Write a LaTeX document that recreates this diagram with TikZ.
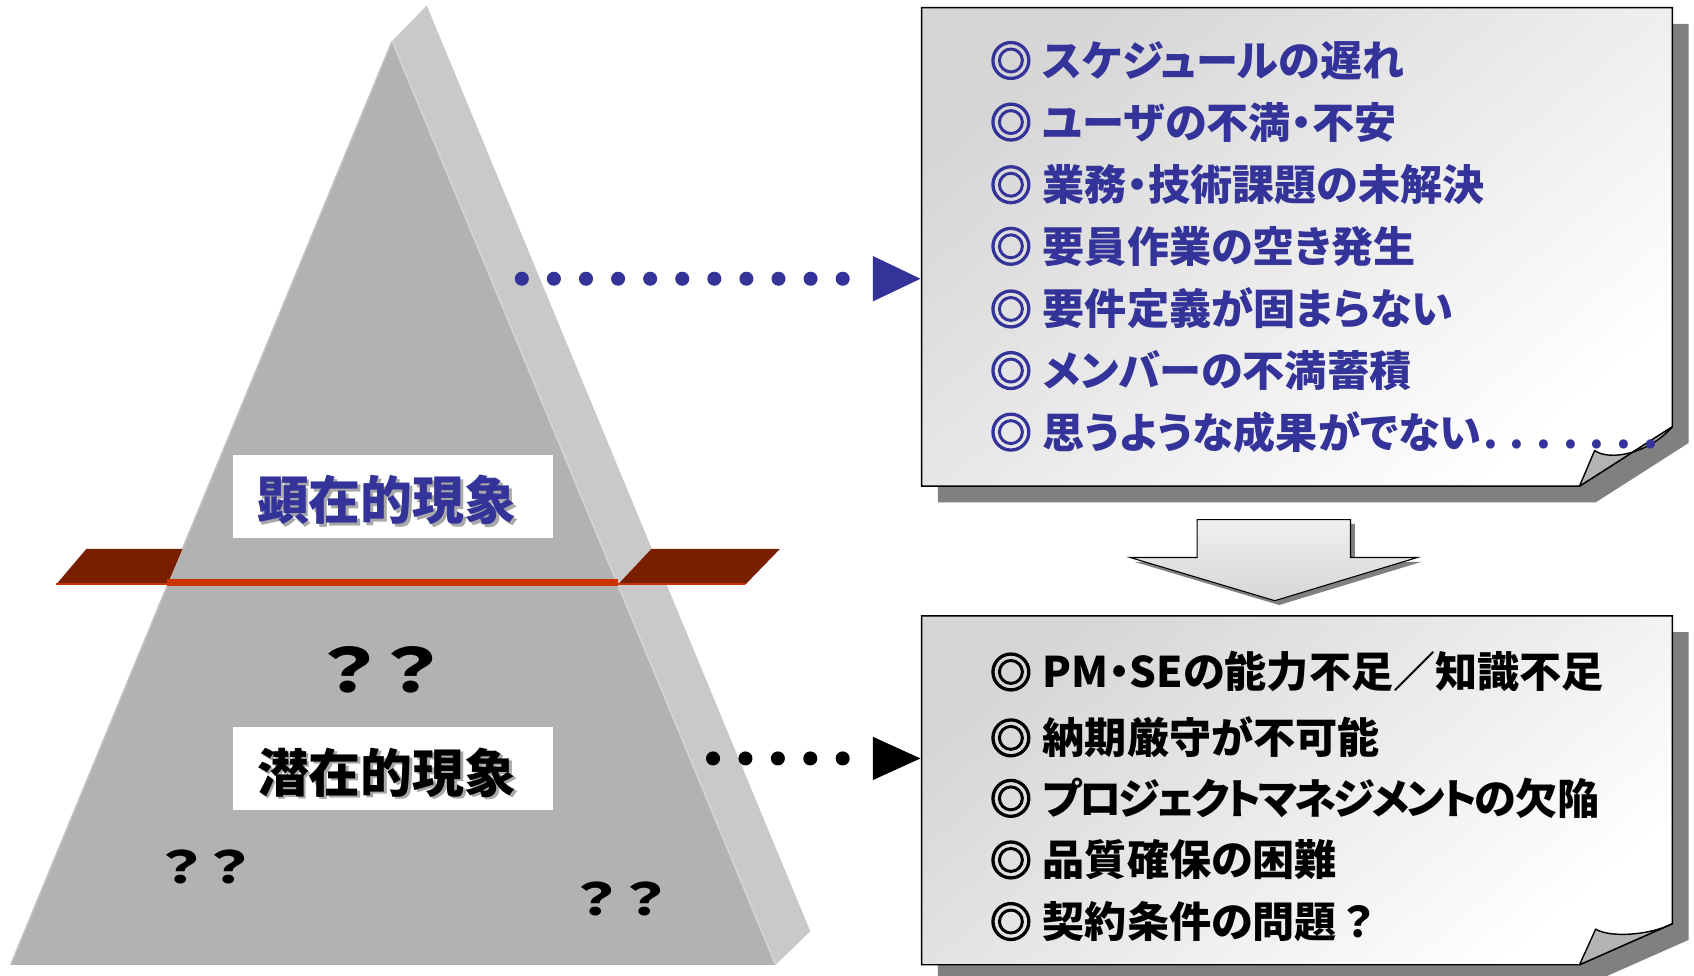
\documentclass[tikz,border=0pt]{standalone}
\usepackage{fontspec}
\newfontfamily\jp{Noto Sans CJK JP}[RawFeature=+palt]
\newfontfamily\jpfw{Noto Sans CJK JP}
\newfontfamily\jpq{Noto Sans CJK JP}[FakeStretch=1.3]
\newfontfamily\jpbul{Noto Sans CJK JP}[FakeBold=3]
\newcommand{\bul}{{\jpbul ◎}\hspace{10pt}}
\newcommand{\fwq}{{\jpfw ？}}
\definecolor{navy}{HTML}{333399}
\definecolor{pyrfront}{HTML}{B2B2B2}
\definecolor{pyrside}{HTML}{C9C9C9}
\definecolor{pyredgeL}{HTML}{C2C2C2}
\definecolor{pyredgeR}{HTML}{D4D4D4}
\definecolor{planecol}{HTML}{7A1E00}
\definecolor{planeedge}{HTML}{C23400}
\definecolor{redline}{HTML}{CC3300}
\definecolor{shadowgray}{HTML}{808080}
\definecolor{boxtl}{HTML}{D6D6D6}
\definecolor{foldgray}{HTML}{B3B3B3}
\definecolor{txtshadow}{HTML}{A8A8A8}
\begin{document}
\begin{tikzpicture}[x=1pt,y=-1pt,
  topitem/.style={anchor=west, inner sep=0pt, text=navy,
    font=\jp\bfseries\fontsize{39}{39}\selectfont, text height=34.3pt, text depth=4.7pt},
  botitem/.style={topitem, text=black},
  lblbox/.style={fill=white, draw=none, minimum width=296pt, minimum height=77pt, inner sep=0pt},
  lbltext/.style={inner sep=0pt, font=\jp\bfseries\fontsize{48}{48}\selectfont},
  qbig/.style={inner sep=0pt, font=\jpq\bfseries\fontsize{56}{56}\selectfont},
  qsmall/.style={inner sep=0pt, font=\jpq\bfseries\fontsize{41}{41}\selectfont},
  bluedots/.style={draw=navy, line width=13pt, line cap=round, dash pattern=on 0pt off 29.7pt},
  blackdots/.style={draw=black, line width=13pt, line cap=round, dash pattern=on 0pt off 30pt},
  paper/.style={draw=black, line width=1.3pt, line join=miter, shading=axis, top color=boxtl, bottom color=white, shading angle=40},
  fold/.style={fill=foldgray, draw=black, line width=1.3pt, line join=round},
  paperShadow/.style={fill=shadowgray, draw=none}
]
\useasboundingbox (0,0) rectangle (1568,903);
\clip (0,0) rectangle (1568,903);

% ---------------- pyramid ----------------
\coordinate (apexF) at (363,38);
\coordinate (apexB) at (395,5);
\coordinate (baseL) at (10,893);
\coordinate (baseR) at (718,893);
\coordinate (baseB) at (750,862);
\fill[pyrside] (apexF) -- (apexB) -- (baseB) -- (baseR) -- cycle;
\fill[pyrfront] (apexF) -- (baseR) -- (baseL) -- cycle;
\draw[pyredgeL, line width=1.5pt] (apexF) -- (baseL);
\draw[pyredgeR, line width=1.5pt] (apexF) -- (baseR);

% cutting plane
\fill[planecol] (52,541) -- (80,508) -- (169,508) -- (155,541) -- cycle;
\fill[planecol] (572,541) -- (603,508) -- (722,508) -- (690,541) -- cycle;
\draw[planeedge, line width=1.8pt] (52,540.5) -- (155,540.5);
\draw[planeedge, line width=1.8pt] (572,540.5) -- (690,540.5);
\draw[redline, line width=6pt] (155,539) -- (572,539);

% labels
\node[lblbox] (visbox) at (364,459.5) {};
\node[lbltext, text=txtshadow] at (360.5,465.5) {顕在的現象};
\node[lbltext, text=navy] (vis) at (358,463) {顕在的現象};
\node[lblbox] (latbox) at (364,711.5) {};
\node[lbltext, text=txtshadow] at (360.5,717.5) {潜在的現象};
\node[lbltext, text=black] (lat) at (358,715) {潜在的現象};

\node[qbig] (q1) at (352,620) {？\hspace{-14pt}？};
\node[qsmall] (q2) at (190,802) {？\hspace{-8pt}？};
\node[qsmall] (q3) at (575,832) {？\hspace{-8pt}？};

% ---------------- top paper ----------------
\fill[paperShadow] (868,22) -- (1563,22) -- (1563,410) -- (1477,465) -- (868,465) -- cycle;
\path[paper] (853,7) -- (1548,7) -- (1548,395) -- (1462,450) -- (853,450) -- cycle;
\coordinate (tb-in) at (852,258);
\draw[fold] (1462,450) -- (1476,417) .. controls (1490,427) and (1526,420) .. (1548,395) -- cycle;

\node[topitem] (t1) at (916,56) {\bul スケジュールの遅れ};
\node[topitem] (t2) at (916,113) {\bul ユーザの不満・不安};
\node[topitem] (t3) at (916,171) {\bul 業務・技術課題の未解決};
\node[topitem] (t4) at (916,228) {\bul 要員作業の空き発生};
\node[topitem] (t5) at (916,286) {\bul 要件定義が固まらない};
\node[topitem] (t6) at (916,343) {\bul メンバーの不満蓄積};
\node[topitem] (t7) at (916,400) {\bul 思うような成果がでない\hspace{0.05em}.\hspace{11pt}.\hspace{11pt}.\hspace{11pt}.\hspace{11pt}.\hspace{11pt}.\hspace{11pt}.};

% ---------------- block arrow ----------------
\fill[shadowgray] (1112,485) -- (1254,485) -- (1254,520) -- (1316,520) -- (1184,560) -- (1050,520) -- (1112,520) -- cycle;
\draw[draw=black, line width=1pt, top color=gray!12, bottom color=gray!32]
  (1108,481) -- (1250,481) -- (1250,516) -- (1312,516) -- (1180,556) -- (1046,516) -- (1108,516) -- cycle;

% ---------------- bottom paper ----------------
\fill[paperShadow] (868,585) -- (1563,585) -- (1563,870) -- (1477,908) -- (868,908) -- cycle;
\path[paper] (853,570) -- (1548,570) -- (1548,855) -- (1462,893) -- (853,893) -- cycle;
\coordinate (bb-in) at (852,702);
\draw[fold] (1462,893) -- (1477,860) .. controls (1490,868) and (1526,866) .. (1548,855) -- cycle;

\node[botitem] (u1) at (916,622) {\bul PM・SEの能力不足{\jpfw ／}知識不足};
\node[botitem] (u2) at (916,683) {\bul 納期厳守が不可能};
\node[botitem] (u3) at (916,739) {\bul {\addfontfeature{LetterSpace=-7}プロジェクトマネジメントの}欠陥};
\node[botitem] (u4) at (916,796) {\bul 品質確保の困難};
\node[botitem] (u5) at (916,853) {\bul 契約条件の問題\fwq};

% ---------------- dotted connectors ----------------
\coordinate (b1s) at (483,258);
\coordinate (b1e) at (800,258);
\draw[bluedots] (b1s) -- (b1e);
\fill[navy] (tb-in) -- ++(-44,-21) -- ++(0,42) -- cycle;

\coordinate (k1s) at (660,702);
\coordinate (k1e) at (800,702);
\draw[blackdots] (k1s) -- (k1e);
\fill[black] (bb-in) -- ++(-44,-20) -- ++(0,40) -- cycle;
\end{tikzpicture}
\end{document}
